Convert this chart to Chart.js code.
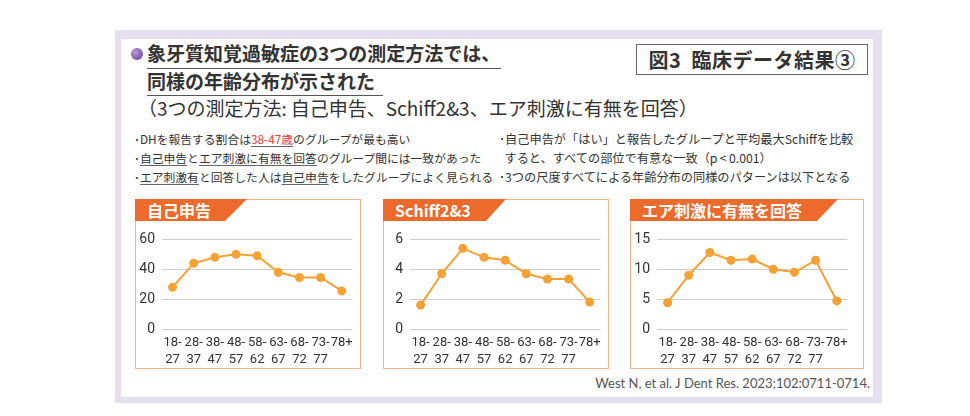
<!DOCTYPE html>
<html lang="ja">
<head>
<meta charset="utf-8">
<title>図3 臨床データ結果③</title>
<script src="https://cdn.jsdelivr.net/npm/chart.js@4.4.0/dist/chart.umd.min.js"></script>
<style>
  html, body { margin: 0; padding: 0; background: #fff; }
  body { width: 970px; height: 416px; position: relative; overflow: hidden;
         font-family: "Noto Sans CJK JP", "Noto Sans", sans-serif; color: #333; }
  .abs { position: absolute; white-space: nowrap; }
  .frame { left: 115px; top: 30px; width: 752px; height: 358px;
           border-style: solid; border-color: #e6dff0; border-width: 9px 9px 6px 6px; background: #fff; }
  .dot { left: 131px; top: 48px; width: 12px; height: 12px; border-radius: 50%;
         background: radial-gradient(circle at 35% 35%, #b39ad6, #7a55a8 70%); }
  .title { font-size: 19px; font-weight: bold; line-height: 22px; color: #333; }
  .sub { font-size: 19px; line-height: 22px; color: #333; }
  .uline { height: 0; border-top: 1.5px solid #555; }
  .figbox { left: 636px; top: 44px; width: 232px; height: 31px; border: 1.5px solid #666;
            box-sizing: border-box; font-size: 20px; font-weight: bold; line-height: 29px;
            text-align: center; color: #333; letter-spacing: 0.5px; }
  .note { font-size: 11.8px; line-height: 16px; color: #333; }
  .note.r { font-size: 12.2px; }
  .note u { text-decoration-color: #666; text-underline-offset: 2px; }
  .red { color: #e5403a; }
  .panel { border: 1.5px solid #f3b591; box-sizing: border-box; background: #fff; }
  .tab { height: 22px; background: #ec6a2c; color: #fff; font-weight: bold; font-size: 16px;
         line-height: 22px; padding-left: 12px; box-sizing: border-box; }
  canvas { position: absolute; }
  .cite { font-family: Lato, "Open Sans", sans-serif; font-size: 13px; color: #555; }
</style>
</head>
<body>
<div class="abs frame"></div>
<div class="abs dot"></div>
<div class="abs title" style="left:147px; top:42px;">象牙質知覚過敏症の3つの測定方法では、</div>
<div class="abs uline" style="left:147px; top:68px; width:354px;"></div>
<div class="abs title" style="left:147px; top:70px;">同様の年齢分布が示された</div>
<div class="abs uline" style="left:147px; top:95px; width:236px;"></div>
<div class="abs sub" style="left:138px; top:97px;">（3つの測定方法:&thinsp;自己申告、Schiff2&amp;3、エア刺激に有無を回答）</div>
<div class="abs figbox">図3&nbsp;&nbsp;臨床データ結果③</div>

<div class="abs note" style="left:134px; top:131px;">･DHを報告する割合は<u class="red">38-47歳</u>のグループが最も高い</div>
<div class="abs note" style="left:134px; top:150px;">･<u>自己申告</u>と<u>エア刺激に有無を回答</u>のグループ間には一致があった</div>
<div class="abs note" style="left:134px; top:169px;">･<u>エア刺激有</u>と回答した人は<u>自己申告</u>をしたグループによく見られる</div>
<div class="abs note r" style="left:499px; top:131px;">･自己申告が「はい」と報告したグループと平均最大Schiffを比較</div>
<div class="abs note r" style="left:499px; top:150px;">&nbsp;&nbsp;すると、すべての部位で有意な一致（p&thinsp;&lt;&thinsp;0.001）</div>
<div class="abs note r" style="left:499px; top:169px;">･3つの尺度すべてによる年齢分布の同様のパターンは以下となる</div>

<div class="abs cite" style="right:100px; top:375px;">West N, et al. J Dent Res. 2023;102:0711-0714.</div>

<script>
// age groups (x axis, two-line labels)
const ageFrom = ['18-', '28-', '38-', '48-', '58-', '63-', '68-', '73-', '78+'];
const ageTo = ['27', '37', '47', '57', '62', '67', '72', '77', ''];

// series
const selfReport = [28, 44, 48, 50, 49, 38, 34.5, 34.5, 25.5];
const schiff23 = [1.6, 3.7, 5.4, 4.8, 4.6, 3.7, 3.35, 3.35, 1.8];
const airBlast = [4.4, 9, 12.8, 11.5, 11.7, 10, 9.5, 11.5, 4.7];

// panel titles and y axis ranges
const panelTitles = ['自己申告', 'Schiff2&3', 'エア刺激に有無を回答'];
const yMax = [60, 6, 15];
const yStep = [20, 2, 5];

const LINE_COLOR = '#f4a236';
const GRID_COLOR = '#cccccc';

/* panel boxes: left, width, tab top width, tab bottom width */
const panels = [
  { left: 135, width: 226, tabTop: 112, tabBottom: 90, data: selfReport },
  { left: 383, width: 226, tabTop: 123, tabBottom: 103, data: schiff23 },
  { left: 630, width: 234, tabTop: 208, tabBottom: 187, data: airBlast }
];

const labels = ageFrom.map((a, i) => [a, ageTo[i]]);

panels.forEach((p, i) => {
  const box = document.createElement('div');
  box.className = 'abs panel';
  box.style.cssText = `left:${p.left}px; top:199px; width:${p.width}px; height:170px;`;
  document.body.appendChild(box);

  const tab = document.createElement('div');
  tab.className = 'abs tab';
  tab.style.cssText = `left:${p.left}px; top:199px; width:${p.tabTop}px;` +
    `clip-path:polygon(0 0,100% 0,${p.tabBottom}px 100%,0 100%);`;
  tab.textContent = panelTitles[i];
  document.body.appendChild(tab);

  const cv = document.createElement('canvas');
  const cw = 223, ch = 143;
  cv.width = cw; cv.height = ch;
  cv.style.cssText = `left:${p.left + 1}px; top:224px; width:${cw}px; height:${ch}px;`;
  document.body.appendChild(cv);

  new Chart(cv.getContext('2d'), {
    type: 'line',
    data: {
      labels: labels,
      datasets: [{
        data: p.data,
        borderColor: LINE_COLOR,
        backgroundColor: LINE_COLOR,
        borderWidth: 2,
        pointRadius: 4.5,
        pointHoverRadius: 4.5,
        pointBackgroundColor: LINE_COLOR,
        pointBorderWidth: 0,
        tension: 0
      }]
    },
    options: {
      responsive: false,
      animation: false,
      layout: { padding: { top: 13, right: 1, left: 0, bottom: 0 } },
      plugins: { legend: { display: false }, tooltip: { enabled: false } },
      scales: {
        x: {
          offset: true,
          grid: { display: false, drawTicks: false },
          border: { display: false },
          ticks: {
            color: '#333', padding: 6, maxRotation: 0, autoSkip: false,
            font: { family: 'Roboto', size: 13, lineHeight: 1.25 }
          },
          afterFit(scale) { scale.height = 38; }
        },
        y: {
          min: 0, max: yMax[i],
          grid: { color: GRID_COLOR, lineWidth: 1, drawTicks: false },
          border: { display: false },
          ticks: {
            stepSize: yStep[i], color: '#333', padding: 7,
            font: { family: 'Roboto', size: 14 }
          },
          afterFit(scale) { scale.width = 26; }
        }
      }
    }
  });
});
</script>
</body>
</html>
